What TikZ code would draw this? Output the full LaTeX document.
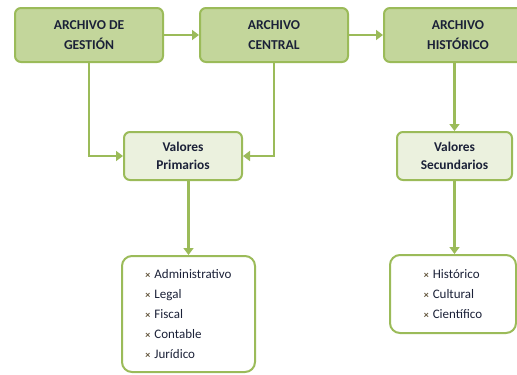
\documentclass[tikz,border=0pt]{standalone}
\usepackage{fontspec}
\setmainfont{Carlito}
\usetikzlibrary{positioning, arrows.meta}
\definecolor{verde}{HTML}{9BBB59}
\definecolor{verdefill}{HTML}{C3D69B}
\definecolor{verdeclaro}{HTML}{EBF1DE}
\definecolor{texto}{HTML}{1B2138}
\definecolor{marca}{HTML}{5E5036}
\tikzset{
	x=1pt, y=-1pt, % one unit is one pixel of the reference, y going down
	>={Triangle[length=7pt, width=10pt]}, % small solid arrow heads
	flecha/.style={->, draw=verde, line width=2.8pt}, % the green connectors
	archivo/.style={draw=verde, line width=2pt, fill=verdefill, rounded corners=6pt,
		minimum width=148pt, minimum height=54pt, align=center, text=texto,
		font=\fontsize{13.6}{20}\selectfont\bfseries}, % top row
	valores/.style={draw=verde, line width=2pt, fill=verdeclaro, rounded corners=6pt,
		minimum height=48pt, align=center, text=texto,
		font=\fontsize{13.4}{18}\selectfont\bfseries}, % middle row
	lista/.style={draw=verde, line width=2pt, fill=white, rounded corners=10pt,
		align=left, text=texto, inner xsep=14pt,
		font=\fontsize{13}{19.8}\selectfont}, % lists at the bottom
}
\newcommand{\marca}{{\color{marca}\fontsize{10}{10}\selectfont\bfseries ×}\hspace{4pt}}

\begin{document}
\begin{tikzpicture}
	\useasboundingbox (0,0) rectangle (517,375);
			\node[archivo] (gestion) at (89,35) {ARCHIVO DE\\GESTIÓN};
			\node[archivo, right=35pt of gestion] (central) {ARCHIVO\\CENTRAL};
			\node[archivo, right=34pt of central] (historico) {ARCHIVO\\HISTÓRICO};
			\node[valores, minimum width=118pt] (primarios) at (183,156) {Valores\\Primarios};
			\node[valores, minimum width=115pt] (secundarios) at (454.5,156) {Valores\\Secundarios};
			\node[lista, minimum width=133pt, minimum height=116pt] (listaprim) at (188.5,314)
				{\marca Administrativo\\\marca Legal\\\marca Fiscal\\\marca Contable\\\marca Jurídico};
			\node[lista, minimum width=126pt, minimum height=78pt] (listasec) at (453,294)
				{\marca Histórico\\\marca Cultural\\\marca Científico};
	\draw[flecha] 	(gestion) -- (central);
	\draw[flecha] 	(central) -- (historico);
	\draw[flecha] 	(gestion.south) |- (primarios.west);
	\draw[flecha] 	(central.south) |- (primarios.east);
	\draw[flecha] 	(historico.south -| secundarios.north) -- (secundarios.north);
	\draw[flecha] 	(primarios.south -| listaprim.north) -- (listaprim.north);
	\draw[flecha] 	(secundarios.south) -- (secundarios.south |- listasec.north);
	\end{tikzpicture}
\end{document}
